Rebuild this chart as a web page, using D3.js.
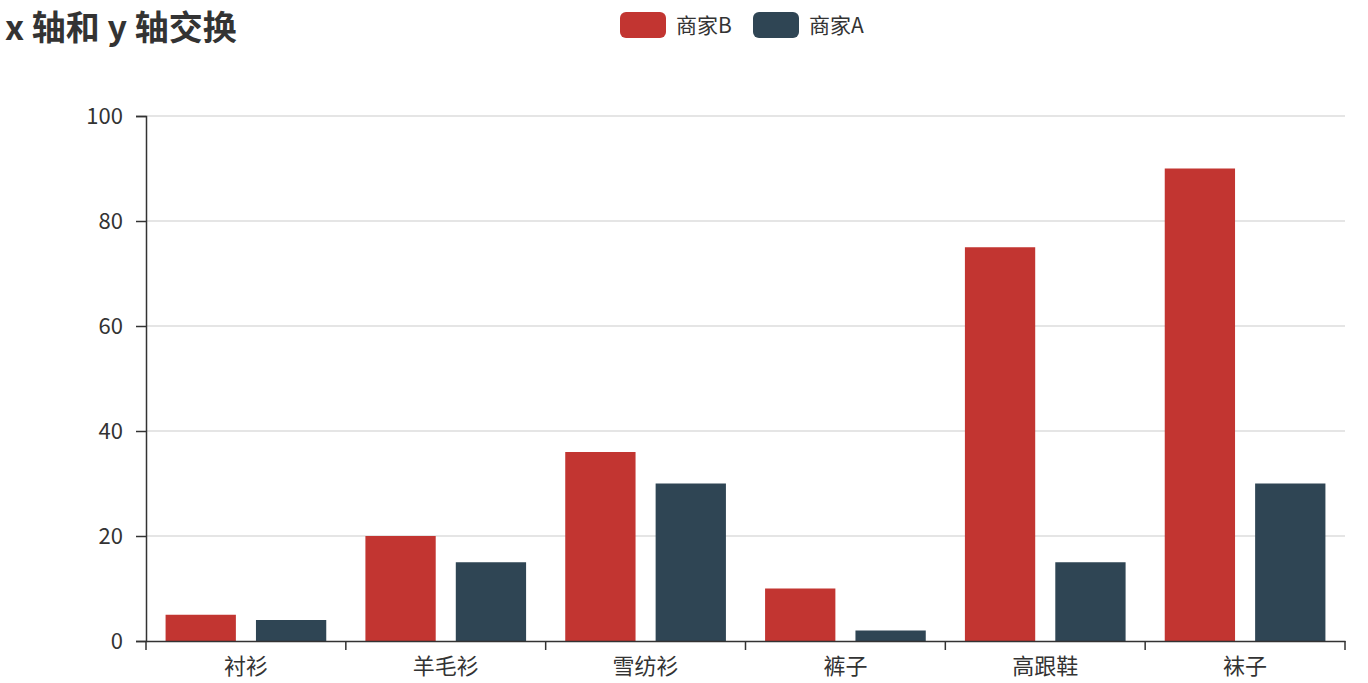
<!DOCTYPE html>
<html><head><meta charset="utf-8">
<script src="https://cdn.jsdelivr.net/npm/d3@7"></script>
<style>body{margin:0;background:#fff;} text{font-family:"Noto Sans CJK SC","Microsoft YaHei",sans-serif;}</style>
</head><body>
<svg id="c" width="1368" height="683"></svg>
<script>
const categories = ["衬衫","羊毛衫","雪纺衫","裤子","高跟鞋","袜子"];
const seriesNames = ["商家B","商家A"];
const valuesB = [5,20,36,10,75,90];
const valuesA = [4,15,30,2,15,30];
const yTicks = [0,20,40,60,80,100];
const colors = ["#c23531","#2f4554"];

const svg = d3.select("#c");
const m = {left:146, right:1345, top:116, bottom:641};
const x = d3.scaleBand().domain(categories).range([m.left,m.right]).paddingInner(0).paddingOuter(0);
const x1 = d3.scaleBand().domain(seriesNames).range([0,x.bandwidth()]).paddingInner(0.2222).paddingOuter(0.2166);
const y = d3.scaleLinear().domain([0,100]).range([m.bottom,m.top]);

// grid
svg.append("g").selectAll("line").data(yTicks.filter(d=>d>0)).join("line")
  .attr("x1",m.left).attr("x2",m.right).attr("y1",d=>y(d)).attr("y2",d=>y(d))
  .attr("stroke","#ccc").attr("stroke-width",1.2);

const series = [valuesB, valuesA];
series.forEach((vals,si)=>{
  svg.append("g").selectAll("rect").data(categories).join("rect")
    .attr("x",(c)=>x(c)+x1(seriesNames[si]))
    .attr("width",x1.bandwidth())
    .attr("y",(c,i)=>y(vals[i]))
    .attr("height",(c,i)=>y(0)-y(vals[i]))
    .attr("fill",colors[si]);
});

// y axis
const ya = svg.append("g").attr("transform",`translate(${m.left},0)`)
  .call(d3.axisLeft(y).tickValues(yTicks).tickSize(10).tickPadding(13));
ya.select(".domain").attr("stroke","#333").attr("stroke-width",1.5);
ya.selectAll(".tick line").attr("stroke","#333").attr("stroke-width",1.5);
ya.selectAll("text").attr("font-size",22).attr("fill","#333");

// x axis
const xa = svg.append("g").attr("transform",`translate(0,${m.bottom})`)
  .call(d3.axisBottom(x).tickSize(0).tickPadding(17));
xa.select(".domain").attr("stroke","#333").attr("stroke-width",1.5);
xa.selectAll("text").attr("font-size",22).attr("fill","#333");
const bounds = categories.map(c=>x(c)).concat([x.range()[1]]);
xa.selectAll("line.bt").data(bounds).join("line").attr("class","bt")
  .attr("x1",d=>d).attr("x2",d=>d).attr("y1",0).attr("y2",9)
  .attr("stroke","#333").attr("stroke-width",1.5);

// title
svg.append("text").attr("x",5).attr("y",40).attr("font-size",34).attr("font-weight","bold")
  .attr("fill","#333").text("x 轴和 y 轴交换");

// legend
const lg = svg.append("g");
const legendX = [620, 753];
seriesNames.forEach((n,i)=>{
  lg.append("rect").attr("x",legendX[i]).attr("y",12).attr("width",46).attr("height",26)
    .attr("rx",6).attr("fill",colors[i]);
  lg.append("text").attr("x",legendX[i]+56).attr("y",33).attr("font-size",21).attr("fill","#333").text(n);
});
</script>
</body></html>
